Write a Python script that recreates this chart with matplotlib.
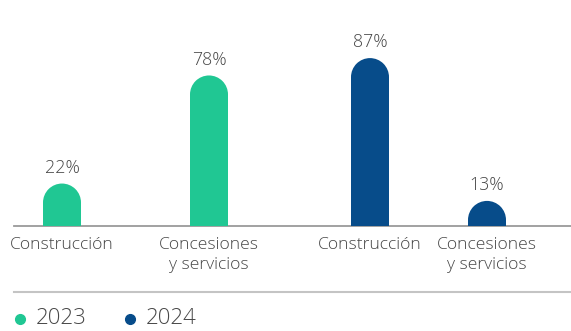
import matplotlib
matplotlib.use("Agg")
import matplotlib.pyplot as plt
from matplotlib.path import Path
from matplotlib.patches import PathPatch
from matplotlib.transforms import IdentityTransform
from matplotlib.lines import Line2D

plt.rcParams['font.family'] = ['Open Sans', 'DejaVu Sans']

# Data
categories = ["Construcción", "Concesiones\ny servicios", "Construcción", "Concesiones\ny servicios"]
years = ["2023", "2023", "2024", "2024"]
values = [22, 78, 87, 13]
legend_labels = ["2023", "2024"]

# Style / layout
year_colors = {"2023": "#20C793", "2024": "#074C8A"}
x_pos = [62, 209, 370, 487]
bar_width = 38
text_color = "#474747"

W, H = 571, 331
fig = plt.figure(figsize=(W / 100, H / 100), dpi=100)

# plot area: baseline at y=226 px, left edge at x=14 px
left_px, right_px = 14, W
base_px, top_px = 226, 20
px_per_pct = 1.93
ax = fig.add_axes([left_px / W, (H - base_px) / H, (right_px - left_px) / W, (base_px - top_px) / H])
ax.set_xlim(left_px, right_px)
ax.set_ylim(0, (base_px - top_px) / px_per_pct)
ax.axis("off")

bars = ax.bar(x_pos, values, width=bar_width, color=[year_colors[y] for y in years])
fig.canvas.draw()

# Replace each bar with a rounded-top version drawn in display space
for b, y in zip(bars, years):
    b.set_visible(False)
    (x0, y0), (x1, y1) = ax.transData.transform([(b.get_x(), 0), (b.get_x() + b.get_width(), b.get_height())])
    r = (x1 - x0) / 2
    cx = (x0 + x1) / 2
    arc = Path.arc(0, 180)
    verts = [(x0, y0), (x1, y0), (x1, y1 - r)]
    codes = [Path.MOVETO, Path.LINETO, Path.LINETO]
    av = arc.vertices * r + [cx, y1 - r]
    verts += [tuple(v) for v in av[1:]]
    codes += list(arc.codes[1:])
    verts += [(x0, y0)]
    codes += [Path.CLOSEPOLY]
    patch = PathPatch(Path(verts, codes), transform=IdentityTransform(),
                      facecolor=year_colors[y], edgecolor="none")
    fig.add_artist(patch)

# Value labels
for xp, v in zip(x_pos, values):
    ax.annotate(f"{v}%", (xp, v), xytext=(0, 5), textcoords="offset points",
                ha="center", va="bottom", fontsize=12.8, color=text_color,
                fontweight="light")

# Category labels
for xp, c in zip(x_pos, categories):
    ax.annotate(c, (xp, 0), xytext=(0, -8), textcoords="offset points",
                ha="center", va="top", fontsize=12.6, color=text_color,
                linespacing=1.32, fontweight="light")

# Baseline
ax.axhline(0, color="#9a9a9a", lw=1.3, clip_on=False)

# Separator above legend
fig.add_artist(Line2D([left_px / W, 1], [(H - 292) / H] * 2, color="#c4c4c4", lw=1.5))

# Legend
leg_y = (H - 319) / H
leg_x = [20 / W, 130 / W]
for lx, lab in zip(leg_x, legend_labels):
    fig.add_artist(Line2D([lx], [leg_y], marker="o", markersize=7,
                          color=year_colors[lab], linestyle="none"))
    fig.text(lx + 16 / W, leg_y, lab, fontsize=16, color=text_color,
             ha="left", va="center", fontweight="light")

fig.savefig("out.png", dpi=100, facecolor="white")
